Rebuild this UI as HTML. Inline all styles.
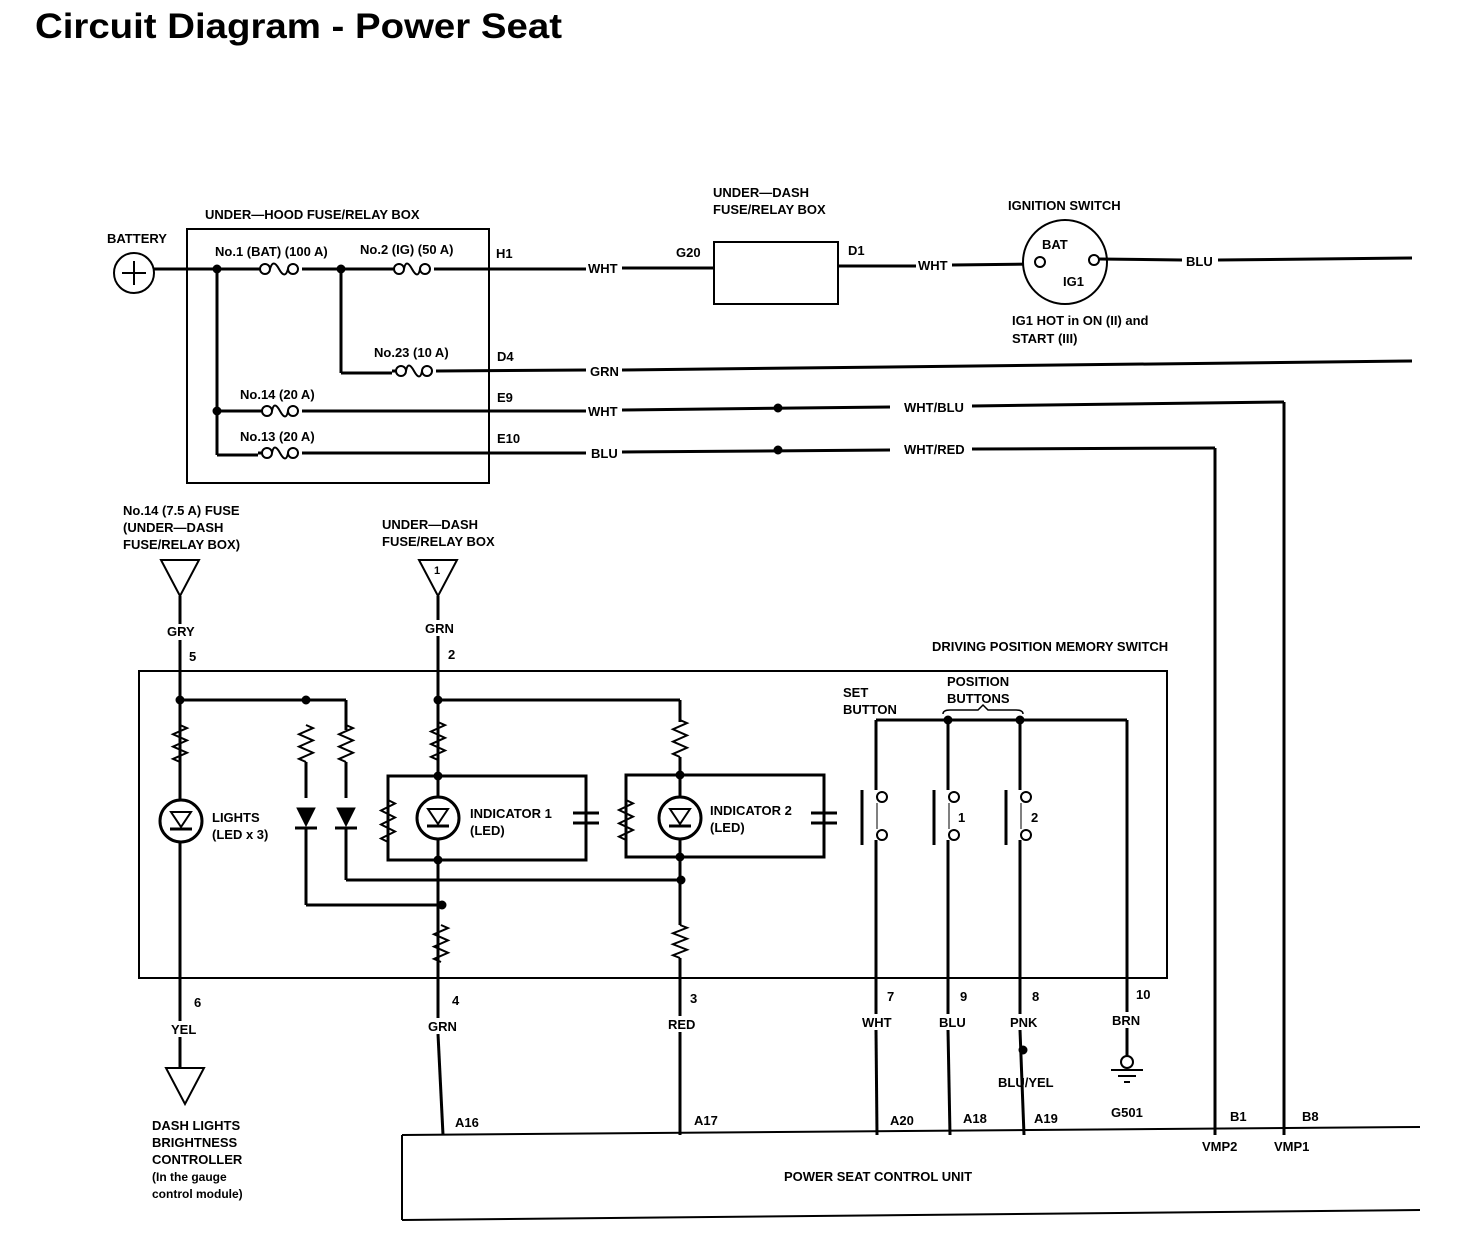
<!DOCTYPE html>
<html><head><meta charset="utf-8"><style>
html,body{margin:0;padding:0;background:#fff;}
svg{display:block;}
text{font-family:"Liberation Sans Narrow","Liberation Sans",sans-serif;font-weight:bold;font-size:13px;fill:#000;}
.t{font-family:"Liberation Sans",sans-serif;font-size:35px;}
</style></head><body>
<svg id="s" width="1472" height="1250" viewBox="0 0 1472 1250" xmlns="http://www.w3.org/2000/svg">
<g id="w" fill="none" stroke="#000" stroke-width="3"></g>
<text class="t" x="35" y="38" textLength="527" lengthAdjust="spacingAndGlyphs">Circuit Diagram - Power Seat</text>
<text x="107" y="243">BATTERY</text>
<text x="205" y="219">UNDER—HOOD FUSE/RELAY BOX</text>
<text x="215" y="256">No.1 (BAT) (100 A)</text>
<text x="360" y="254">No.2 (IG) (50 A)</text>
<text x="374" y="357">No.23 (10 A)</text>
<text x="240" y="399">No.14 (20 A)</text>
<text x="240" y="441">No.13 (20 A)</text>
<text x="496" y="258">H1</text>
<text x="497" y="361">D4</text>
<text x="497" y="402">E9</text>
<text x="497" y="443">E10</text>
<rect x="586" y="258" width="36" height="18" fill="#fff"/><text x="588" y="273">WHT</text>
<rect x="586" y="361" width="36" height="18" fill="#fff"/><text x="590" y="376">GRN</text>
<rect x="586" y="402" width="36" height="18" fill="#fff"/><text x="588" y="416">WHT</text>
<rect x="586" y="444" width="36" height="18" fill="#fff"/><text x="591" y="458">BLU</text>
<rect x="890" y="398" width="82" height="18" fill="#fff"/><text x="904" y="412">WHT/BLU</text>
<rect x="890" y="440" width="82" height="18" fill="#fff"/><text x="904" y="454">WHT/RED</text>
<rect x="916" y="255" width="36" height="18" fill="#fff"/><text x="918" y="270">WHT</text>
<rect x="1182" y="251" width="36" height="18" fill="#fff"/><text x="1186" y="266">BLU</text>
<text x="676" y="257">G20</text>
<text x="848" y="255">D1</text>
<text x="713" y="197">UNDER—DASH</text>
<text x="713" y="214">FUSE/RELAY BOX</text>
<text x="1008" y="210">IGNITION SWITCH</text>
<text x="1042" y="249">BAT</text>
<text x="1063" y="286">IG1</text>
<text x="1012" y="325">IG1 HOT in ON (II) and</text>
<text x="1012" y="343">START (III)</text>
<text x="123" y="515">No.14 (7.5 A) FUSE</text>
<text x="123" y="532">(UNDER—DASH</text>
<text x="123" y="549">FUSE/RELAY BOX)</text>
<text x="382" y="529">UNDER—DASH</text>
<text x="382" y="546">FUSE/RELAY BOX</text>
<text x="434" y="574" style="font-size:11px">1</text>
<rect x="164" y="624" width="32" height="16" fill="#fff"/><text x="167" y="636">GRY</text>
<rect x="422" y="620" width="32" height="16" fill="#fff"/><text x="425" y="633">GRN</text>
<text x="189" y="661">5</text>
<text x="448" y="659">2</text>
<text x="932" y="651">DRIVING POSITION MEMORY SWITCH</text>
<text x="843" y="697">SET</text>
<text x="843" y="714">BUTTON</text>
<text x="947" y="686">POSITION</text>
<text x="947" y="703">BUTTONS</text>
<text x="212" y="822">LIGHTS</text>
<text x="212" y="839">(LED x 3)</text>
<text x="470" y="818">INDICATOR 1</text>
<text x="470" y="835">(LED)</text>
<text x="710" y="815">INDICATOR 2</text>
<text x="710" y="832">(LED)</text>
<text x="958" y="822">1</text>
<text x="1031" y="822">2</text>
<text x="194" y="1007">6</text>
<rect x="168" y="1021" width="30" height="16" fill="#fff"/><text x="171" y="1034">YEL</text>
<text x="452" y="1005">4</text>
<rect x="426" y="1018" width="34" height="16" fill="#fff"/><text x="428" y="1031">GRN</text>
<text x="690" y="1003">3</text>
<rect x="664" y="1016" width="34" height="16" fill="#fff"/><text x="668" y="1029">RED</text>
<text x="887" y="1001">7</text>
<rect x="860" y="1014" width="34" height="16" fill="#fff"/><text x="862" y="1027">WHT</text>
<text x="960" y="1001">9</text>
<rect x="936" y="1014" width="32" height="16" fill="#fff"/><text x="939" y="1027">BLU</text>
<text x="1032" y="1001">8</text>
<rect x="1008" y="1014" width="32" height="16" fill="#fff"/><text x="1010" y="1027">PNK</text>
<text x="1136" y="999">10</text>
<rect x="1110" y="1012" width="32" height="16" fill="#fff"/><text x="1112" y="1025">BRN</text>
<text x="998" y="1087">BLU/YEL</text>
<text x="1111" y="1117">G501</text>
<text x="455" y="1127">A16</text>
<text x="694" y="1125">A17</text>
<text x="890" y="1125">A20</text>
<text x="963" y="1123">A18</text>
<text x="1034" y="1123">A19</text>
<text x="1230" y="1121">B1</text>
<text x="1302" y="1121">B8</text>
<text x="1202" y="1151">VMP2</text>
<text x="1274" y="1151">VMP1</text>
<text x="784" y="1181">POWER SEAT CONTROL UNIT</text>
<text x="152" y="1130">DASH LIGHTS</text>
<text x="152" y="1147">BRIGHTNESS</text>
<text x="152" y="1164">CONTROLLER</text>
<text x="152" y="1181" style="font-size:12px">(In the gauge</text>
<text x="152" y="1198" style="font-size:12px">control module)</text>
</svg>
<script>
var g=document.getElementById('w'),o='';
function P(d,sw){o+='<path d="'+d+'"'+(sw?' stroke-width="'+sw+'"':'')+'/>';}
function L(x1,y1,x2,y2,sw){P('M'+x1+' '+y1+'L'+x2+' '+y2,sw);}
function C(x,y,r,f,sw){o+='<circle cx="'+x+'" cy="'+y+'" r="'+r+'"'+(f?' fill="#000"':' fill="#fff"')+(sw?' stroke-width="'+sw+'"':'')+'/>';}
function D(x,y){C(x,y,4,1,1);}
function R(x,y0,y1){var n=6,h=(y1-y0)/n,d='M'+x+' '+y0;for(var i=0;i<n;i++){d+='L'+(x+(i%2?-7:7))+' '+(y0+h*(i+0.5));}d+='L'+x+' '+y1;P(d,2);}
function F(x0,x1,y){L(x0,y,x0+4,y);C(x0+9,y,5,0,2);var m=(x0+x1)/2;P('M'+(x0+14)+' '+y+'Q'+(m-6)+' '+(y-11)+' '+m+' '+y+'Q'+(m+6)+' '+(y+11)+' '+(x1-14)+' '+y,2);C(x1-9,y,5,0,2);}
function LED(x,y){C(x,y,21,0,3);P('M'+(x-10)+' '+(y-9)+'L'+(x+10)+' '+(y-9)+'L'+x+' '+(y+6)+'Z',2);L(x-11,y+8,x+11,y+8,3);}
function DI(x,y){o+='<path d="M'+(x-9)+' '+(y-10)+'L'+(x+9)+' '+(y-10)+'L'+x+' '+(y+8)+'Z" fill="#000" stroke-width="1"/>';L(x-11,y+10,x+11,y+10,3);}
function CAP(x,y){L(x-13,y-5,x+13,y-5,3);L(x-13,y+5,x+13,y+5,3);}
function TRI(x,y){P('M'+(x-19)+' '+y+'L'+(x+19)+' '+y+'L'+x+' '+(y+36)+'Z',2);}
function SW(x){L(x-14,790,x-14,845,3);C(x+6,797,5,0,2);C(x+6,835,5,0,2);P('M'+(x+1)+' 803L'+(x+1)+' 829',1);}
C(134,273,20,0,2);L(122,273,146,273,2);L(134,261,134,285,2);
o+='<rect x="187" y="229" width="302" height="254" stroke-width="2"/>';
L(154,269,256,269);F(256,302,269);L(302,269,390,269);F(390,434,269);L(434,269,586,269);L(622,268,714,268);
D(217,269);D(341,269);
L(341,269,341,373);L(341,373,392,373);F(392,436,371);L(436,371,586,370);L(622,370,1412,361);
L(217,269,217,455);D(217,411);L(217,411,258,411);F(258,302,411);L(302,411,586,411);L(622,410,890,407);L(972,406,1284,402);L(1284,402,1284,1135);D(778,408);
L(217,455,258,455);F(258,302,453);L(302,453,586,453);L(622,452,890,450);L(972,449,1215,448);L(1215,448,1215,1135);D(778,450);
o+='<rect x="714" y="242" width="124" height="62" stroke-width="2"/>';
L(838,266,916,266);L(952,265,1035,264);
C(1065,262,42,0,2);C(1040,262,5,0,2);C(1094,260,5,0,2);L(1099,259,1182,260);L(1218,260,1412,258);
TRI(180,560);L(180,596,180,624);L(180,640,180,1021);L(180,1037,180,1068);TRI(185,1068);
TRI(438,560);L(438,596,438,620);L(438,636,438,1018);L(438,1034,443,1135);
o+='<rect x="139" y="671" width="1028" height="307" stroke-width="2"/>';
L(180,700,346,700);L(346,700,346,730);D(180,700);D(306,700);
R(180,725,762);L(180,762,180,800);LED(181,821);
R(306,725,762);L(306,762,306,798);DI(306,818);L(306,828,306,905);L(306,905,442,905);D(442,905);
R(346,725,762);L(346,762,346,798);DI(346,818);L(346,828,346,880);L(346,880,681,880);D(681,880);
D(438,700);L(438,700,680,700);L(680,700,680,722);
R(438,722,760);L(438,760,438,798);
o+='<path d="M388 776H586V860H388Z"/>';L(586,776,586,808);CAP(586,818);L(586,828,586,860);
D(438,776);D(438,860);LED(438,818);R(388,800,842);
R(441,925,962);
R(680,720,757);L(680,757,680,798);
o+='<path d="M626 775H824V857H626Z"/>';D(680,775);D(680,857);LED(680,818);R(626,800,840);
L(824,775,824,808);CAP(824,818);L(824,828,824,857);
L(680,838,680,925);R(680,925,958);L(680,958,680,1016);L(680,1032,680,1135);
L(876,720,1127,720);D(948,720);D(1020,720);
P('M943 714Q943 710 950 710H978L983 705L988 710H1016Q1023 710 1023 714',1.5);
L(876,720,876,790);SW(876);L(876,840,876,1014);L(876,1030,877,1135);
L(948,720,948,790);SW(948);L(948,840,948,1014);L(948,1030,950,1135);
L(1020,720,1020,790);SW(1020);L(1020,840,1020,1014);L(1020,1030,1024,1135);D(1023,1050);
L(1127,720,1127,1012);L(1127,1028,1127,1056);C(1127,1062,6,0,2);L(1111,1070,1143,1070,2);L(1118,1076,1136,1076,2);L(1124,1082,1130,1082,2);
L(402,1135,1420,1127,2);L(402,1135,402,1220,2);L(402,1220,1420,1210,2);
g.innerHTML=o;
</script>
</body></html>
